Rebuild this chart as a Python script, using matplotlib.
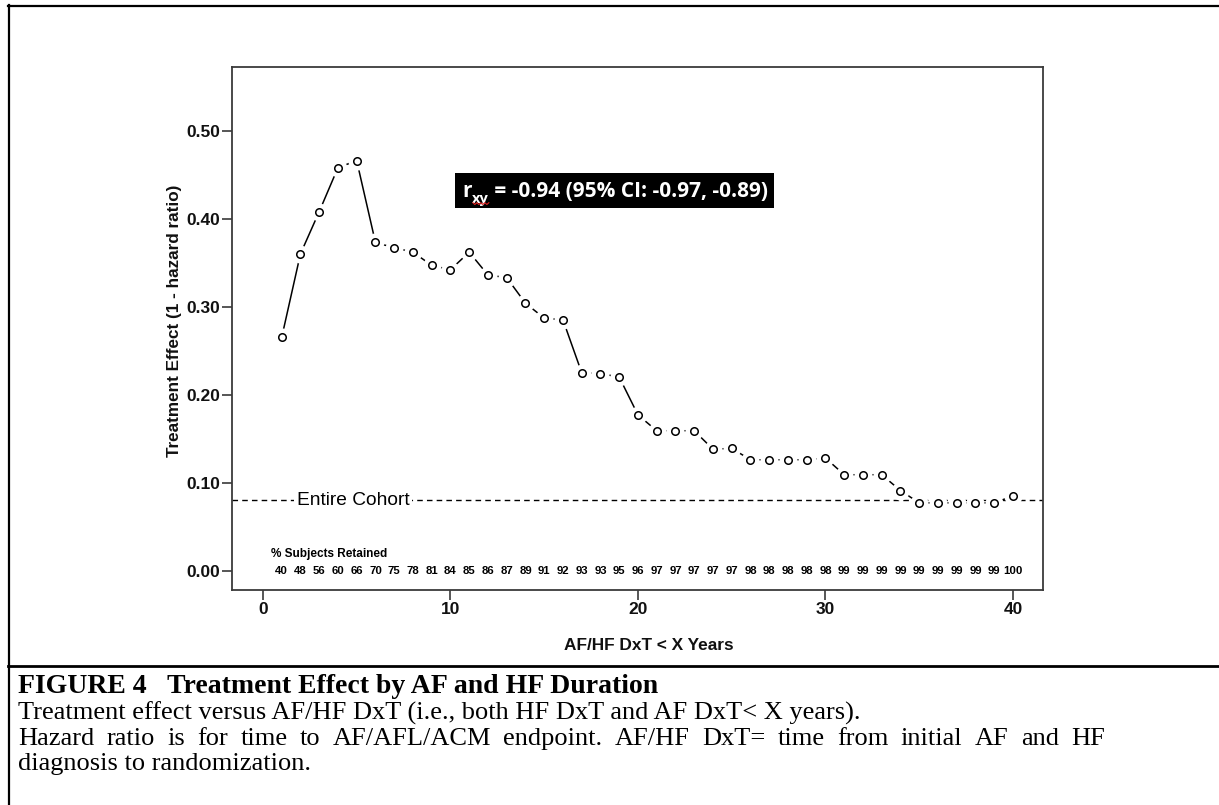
import matplotlib
matplotlib.use("Agg")
import matplotlib.pyplot as plt
import numpy as np
from matplotlib.lines import Line2D
from matplotlib.patches import Rectangle
from matplotlib.transforms import IdentityTransform

# ---- data -------------------------------------------------------------
years = list(range(1, 41))
effect = [0.265, 0.360, 0.408, 0.458, 0.466, 0.373, 0.367, 0.362, 0.347, 0.342,
          0.362, 0.336, 0.333, 0.304, 0.287, 0.285, 0.225, 0.224, 0.220, 0.177,
          0.159, 0.159, 0.159, 0.138, 0.139, 0.126, 0.126, 0.126, 0.126, 0.128,
          0.109, 0.109, 0.109, 0.091, 0.077, 0.077, 0.077, 0.077, 0.077, 0.085]
retained = [40, 48, 56, 60, 66, 70, 75, 78, 81, 84, 85, 86, 87, 89, 91, 92, 93, 93, 95, 96,
            97, 97, 97, 97, 97, 98, 98, 98, 98, 98, 99, 99, 99, 99, 99, 99, 99, 99, 99, 100]
cohort_effect = 0.08
r_xy = -0.94
ci_low, ci_high = -0.97, -0.89
xticks = [0, 10, 20, 30, 40]
yticks = [0.00, 0.10, 0.20, 0.30, 0.40, 0.50]

caption_title = "FIGURE 4   Treatment Effect by AF and HF Duration"
caption_lines = [
    ("Treatment effect versus AF/HF DxT (i.e., both HF DxT and AF DxT< X years).", False),
    ("Hazard ratio is for time to AF/AFL/ACM endpoint. AF/HF DxT= time from initial AF and HF", True),
    ("diagnosis to randomization.", False),
]

# ---- figure -----------------------------------------------------------
W, H = 1219, 805
fig = plt.figure(figsize=(W / 100, H / 100), dpi=100)
fig.patch.set_facecolor("white")

SANS = ["Liberation Sans", "DejaVu Sans"]
NARROW = ["Liberation Sans Narrow", "Liberation Sans", "DejaVu Sans"]
SERIF = ["Liberation Serif", "DejaVu Serif"]

ax = fig.add_axes([232 / W, 1 - 590 / H, (1043 - 232) / W, (590 - 66.5) / H])
ax.set_xlim(-1.65, 41.6)
ax.set_ylim(-0.022, 0.573)

axis_col = "#3a3a3a"
for sp in ax.spines.values():
    sp.set_color(axis_col)
    sp.set_linewidth(1.3)

ax.set_xticks(xticks)
ax.set_yticks(yticks)
ax.set_xticklabels([str(t) for t in xticks])
ax.set_yticklabels([f"{t:.2f}" for t in yticks])
ax.tick_params(axis="both", direction="out", length=7.5, width=1.2, color=axis_col,
               labelsize=12.5)
ax.tick_params(axis="x", pad=1)
ax.tick_params(axis="y", pad=1)
for lbl in ax.get_xticklabels() + ax.get_yticklabels():
    lbl.set_fontfamily(SANS)
    lbl.set_fontweight("bold")
    lbl.set_color("#111111")

ax.set_xlabel("AF/HF DxT < X Years", fontsize=12.4, fontweight="bold", family=SANS,
              color="#111111", va="center")
ax.xaxis.set_label_coords(0.514, (590 - 645) / 523.5)
ax.set_ylabel("Treatment Effect (1 - hazard ratio)", fontsize=12.3, fontweight="bold",
              family=SANS, color="#111111", va="center")
ax.yaxis.set_label_coords((175 - 232) / 811, 0.515)

# reference level for the whole cohort
ax.axhline(cohort_effect, color="black", lw=1.0, ls=(0, (4, 3)), zorder=1)
ax.text(1.8, cohort_effect, "Entire Cohort", fontsize=13.8, family=SANS,
        va="center", ha="left", zorder=2,
        bbox=dict(fc="white", ec="none", pad=2))

# series: line with gaps around each open circle
ax.plot(years, effect, color="black", lw=1.1, zorder=3, solid_capstyle="butt")
ax.plot(years, effect, "o", ms=13, mfc="white", mec="none", zorder=4)
ax.plot(years, effect, "o", ms=5.4, mfc="white", mec="black", mew=1.1, zorder=5)

# retained percentage row
ax.text(0.45, 0.019, "% Subjects Retained", fontsize=8.5, fontweight="bold",
        family=NARROW, va="center", ha="left")
for xv, pct in zip(years, retained):
    ax.text(xv, 0.0, str(pct), fontsize=8.2, fontweight="bold", family=NARROW,
            va="center", ha="center")

# correlation annotation in a black box
ann_font = ["Open Sans", "DejaVu Sans"]
ann_size = 15
base_y = 0.4245
t1 = ax.text(10.62, base_y, "r", fontsize=ann_size, fontweight="bold", family=ann_font,
             color="white", va="baseline", ha="left", zorder=8)
t2 = ax.annotate("xy", xy=(1, base_y), xycoords=(t1, "data"), xytext=(0.2, -4.0),
                 textcoords="offset points", fontsize=ann_size * 0.7, fontweight="bold",
                 family=ann_font, color="white", va="baseline", ha="left", zorder=8)
t3 = ax.annotate(f" = {r_xy:.2f} (95% CI: {ci_low:.2f}, {ci_high:.2f})",
                 xy=(1, base_y), xycoords=(t2, "data"), xytext=(0, 0),
                 textcoords="offset points", fontsize=ann_size, fontweight="bold",
                 family=ann_font, color="white", va="baseline", ha="left", zorder=8)

fig.canvas.draw()
rend = fig.canvas.get_renderer()
ext = [t.get_window_extent(rend) for t in (t1, t2, t3)]
x0 = min(e.x0 for e in ext) - 7
x1 = max(e.x1 for e in ext) + 6
bt = t3.get_window_extent(rend)
y0 = bt.y0 - 6
y1 = bt.y1 + 8
ax.add_patch(Rectangle((x0, y0), x1 - x0, y1 - y0, transform=IdentityTransform(),
                       fc="black", ec="none", zorder=7, clip_on=False))
# red spell-check squiggle under the subscript
e2 = ext[1]
sx = np.arange(e2.x0 + 1, e2.x1 + 1, 2.0)
sy = e2.y0 + 3 + np.where(np.arange(len(sx)) % 2 == 0, 0.0, -1.8)
ax.add_line(Line2D(sx, sy, transform=IdentityTransform(), color="#e02020", lw=0.8,
                   zorder=9, clip_on=False))

# page frame and caption
def hline(y, xa, xb, lw=1.6):
    fig.add_artist(Line2D([xa / W, xb / W], [1 - y / H, 1 - y / H],
                          transform=fig.transFigure, color="black", lw=lw))

def vline(x, ya, yb, lw=1.6):
    fig.add_artist(Line2D([x / W, x / W], [1 - ya / H, 1 - yb / H],
                          transform=fig.transFigure, color="black", lw=lw))

hline(6, 8, W)
vline(9, 5, H)
hline(666, 8, W, lw=2.0)

cap_left, cap_right = 18, 1105
fig.text(cap_left / W, 1 - 686 / H, caption_title, family=SERIF, fontweight="bold",
         fontsize=20, va="center", ha="left")
for i, (line, justify) in enumerate(caption_lines):
    yy = 1 - (713 + 25.7 * i) / H
    if not justify:
        fig.text(cap_left / W, yy, line, family=SERIF, fontsize=19,
                 va="center", ha="left")
        continue
    # justified line: spread words evenly between the caption margins
    words = line.split(" ")
    arts = [fig.text(0, yy, w, family=SERIF, fontsize=19, va="center", ha="left")
            for w in words]
    widths = [a.get_window_extent(rend).width for a in arts]
    gap = (cap_right - cap_left - sum(widths)) / (len(words) - 1)
    xpos = cap_left
    for a, wd in zip(arts, widths):
        a.set_x(xpos / W)
        xpos += wd + gap

fig.savefig("out.png", dpi=100)
